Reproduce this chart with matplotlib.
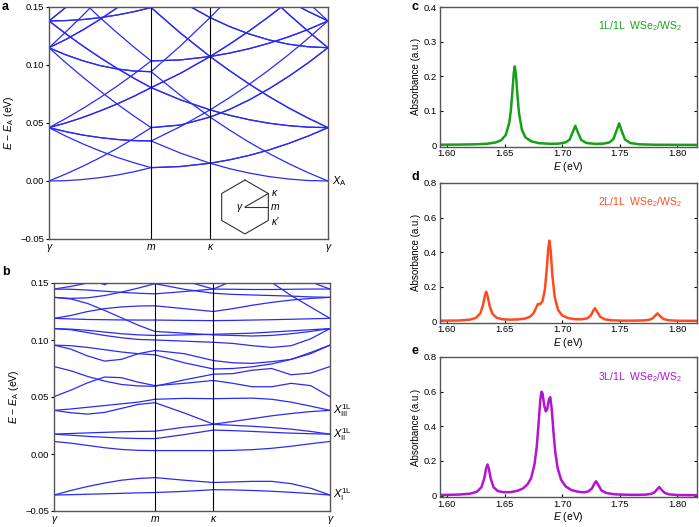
import matplotlib
matplotlib.use("Agg")
import matplotlib.pyplot as plt

plt.rcParams['font.family'] = ['Liberation Sans', 'DejaVu Sans']
plt.rcParams['mathtext.fontset'] = 'custom'
plt.rcParams['mathtext.rm'] = 'Liberation Sans'
plt.rcParams['mathtext.it'] = 'Liberation Sans:italic'
plt.rcParams['mathtext.bf'] = 'Liberation Sans:bold'

# k-path positions (gamma -> m -> kappa -> gamma)
kpath = [0, 0.1443, 0.2887, 0.433, 0.5774, 0.7217, 0.866, 1.116, 1.366,
         1.5327, 1.6993, 1.866, 2.0327, 2.1993, 2.366]
kticks = [0, 0.866, 1.366, 2.366]
klabels = ['γ', 'm', 'κ', 'γ']

# panel a bands (eV)
bands_a = [
    [0, 0.0003, 0.0013, 0.0029, 0.0051, 0.0080, 0.0115, 0.0125, 0.0153, 0.0106, 0.0068, 0.0038, 0.0017, 0.0004, 0],
    [0, 0.0061, 0.0128, 0.0201, 0.0281, 0.0367, 0.0460, 0.0483, 0.0551, 0.0438, 0.0333, 0.0237, 0.0150, 0.0071, 0],
    [0.0460, 0.0386, 0.0319, 0.0259, 0.0204, 0.0157, 0.0115, 0.0125, 0.0153, 0.0183, 0.0221, 0.0268, 0.0324, 0.0388, 0.0460],
    [0.1149, 0.1018, 0.0894, 0.0776, 0.0664, 0.0559, 0.0460, 0.0483, 0.0551, 0.0618, 0.0700, 0.0795, 0.0902, 0.1020, 0.1149],
    [0.0460, 0.0425, 0.0396, 0.0374, 0.0358, 0.0348, 0.0345, 0.0240, 0.0153, 0.0183, 0.0221, 0.0268, 0.0324, 0.0388, 0.0460],
    [0.1149, 0.1087, 0.1036, 0.0995, 0.0966, 0.0948, 0.0942, 0.0737, 0.0551, 0.0618, 0.0700, 0.0795, 0.0902, 0.1020, 0.1149],
    [0.0460, 0.0425, 0.0396, 0.0374, 0.0358, 0.0348, 0.0345, 0.0470, 0.0613, 0.0566, 0.0528, 0.0498, 0.0477, 0.0464, 0.0460],
    [0.1149, 0.1087, 0.1036, 0.0995, 0.0966, 0.0948, 0.0942, 0.1166, 0.1409, 0.1331, 0.1267, 0.1216, 0.1179, 0.1157, 0.1149],
    [0.0460, 0.0501, 0.0549, 0.0604, 0.0664, 0.0731, 0.0805, 0.0699, 0.0613, 0.0566, 0.0528, 0.0498, 0.0477, 0.0464, 0.0460],
    [0.1149, 0.1221, 0.1303, 0.1393, 0.1493, 0.1601, 0.1717, 0.1550, 0.1409, 0.1331, 0.1267, 0.1216, 0.1179, 0.1157, 0.1149],
    [0.0460, 0.0501, 0.0549, 0.0604, 0.0664, 0.0731, 0.0805, 0.0929, 0.1073, 0.0950, 0.0835, 0.0728, 0.0630, 0.0541, 0.0460],
    [0.1149, 0.1221, 0.1303, 0.1393, 0.1493, 0.1601, 0.1717, 0.1910, 0.2120, 0.1940, 0.1764, 0.1595, 0.1437, 0.1289, 0.1149],
    [0.0460, 0.0540, 0.0626, 0.0719, 0.0818, 0.0923, 0.1035, 0.1044, 0.1073, 0.0950, 0.0835, 0.0728, 0.0630, 0.0541, 0.0460],
    [0.1149, 0.1287, 0.1430, 0.1580, 0.1737, 0.1900, 0.2070, 0.2080, 0.2120, 0.1940, 0.1764, 0.1595, 0.1437, 0.1289, 0.1149],
    [0.1380, 0.1383, 0.1392, 0.1408, 0.1431, 0.1460, 0.1495, 0.1274, 0.1073, 0.1103, 0.1141, 0.1188, 0.1243, 0.1307, 0.1380],
    [0.1380, 0.1383, 0.1392, 0.1408, 0.1431, 0.1460, 0.1495, 0.1734, 0.1993, 0.1869, 0.1754, 0.1648, 0.1550, 0.1461, 0.1380],
    [0.1380, 0.1268, 0.1163, 0.1064, 0.0971, 0.0885, 0.0805, 0.0699, 0.0613, 0.0720, 0.0835, 0.0958, 0.1090, 0.1231, 0.1380],
    [0.2570, 0.2410, 0.2260, 0.2110, 0.1970, 0.1840, 0.1717, 0.1549, 0.1409, 0.1582, 0.1764, 0.1950, 0.2150, 0.2360, 0.2570],
    [0.1380, 0.1268, 0.1163, 0.1064, 0.0971, 0.0885, 0.0805, 0.0929, 0.1073, 0.1103, 0.1141, 0.1188, 0.1243, 0.1307, 0.1380],
    [0.1380, 0.1498, 0.1622, 0.1754, 0.1890, 0.2040, 0.2190, 0.2090, 0.1990, 0.1870, 0.1754, 0.1648, 0.1550, 0.1461, 0.1380],
    [0.1380, 0.1498, 0.1622, 0.1754, 0.1890, 0.2040, 0.2190, 0.2310, 0.2450, 0.2250, 0.2060, 0.1880, 0.1703, 0.1537, 0.1380],
    [0.1840, 0.1690, 0.1546, 0.1408, 0.1278, 0.1153, 0.1035, 0.1044, 0.1073, 0.1180, 0.1295, 0.1418, 0.1550, 0.1690, 0.1840],
    [0.1840, 0.1766, 0.1699, 0.1638, 0.1584, 0.1536, 0.1495, 0.1274, 0.1073, 0.1180, 0.1295, 0.1418, 0.1550, 0.1690, 0.1840],
    [0.1840, 0.1766, 0.1699, 0.1638, 0.1584, 0.1536, 0.1495, 0.1734, 0.1993, 0.1946, 0.1908, 0.1878, 0.1857, 0.1844, 0.1840],
]

# panel b bands (eV)
bands_b = [
    [-0.0360, -0.0357, -0.0353, -0.0349, -0.0345, -0.0341, -0.0338, -0.0328, -0.0313, -0.0315, -0.0320, -0.0327, -0.0336, -0.0347, -0.0360],
    [-0.0360, -0.0320, -0.0285, -0.0255, -0.0230, -0.0215, -0.0207, -0.0230, -0.0250, -0.0245, -0.0240, -0.0240, -0.0260, -0.0300, -0.0360],
    [0.0110, 0.0095, 0.0075, 0.0055, 0.0040, 0.0032, 0.0030, 0.0030, 0.0030, 0.0032, 0.0038, 0.0050, 0.0068, 0.0090, 0.0110],
    [0.0174, 0.0180, 0.0185, 0.0190, 0.0195, 0.0198, 0.0200, 0.0235, 0.0260, 0.0252, 0.0243, 0.0232, 0.0218, 0.0198, 0.0174],
    [0.0174, 0.0165, 0.0155, 0.0147, 0.0140, 0.0136, 0.0135, 0.0170, 0.0210, 0.0205, 0.0198, 0.0190, 0.0183, 0.0178, 0.0174],
    [0.0383, 0.0362, 0.0350, 0.0365, 0.0400, 0.0435, 0.0450, 0.0360, 0.0262, 0.0285, 0.0310, 0.0335, 0.0355, 0.0372, 0.0383],
    [0.0383, 0.0395, 0.0410, 0.0425, 0.0440, 0.0455, 0.0480, 0.0488, 0.0485, 0.0488, 0.0490, 0.0480, 0.0455, 0.0420, 0.0383],
    [0.0503, 0.0560, 0.0625, 0.0675, 0.0670, 0.0630, 0.0600, 0.0620, 0.0645, 0.0620, 0.0590, 0.0590, 0.0620, 0.0600, 0.0503],
    [0.0767, 0.0730, 0.0680, 0.0640, 0.0610, 0.0597, 0.0594, 0.0650, 0.0700, 0.0705, 0.0735, 0.0750, 0.0695, 0.0710, 0.0767],
    [0.0955, 0.0920, 0.0860, 0.0815, 0.0830, 0.0880, 0.0908, 0.0880, 0.0820, 0.0800, 0.0795, 0.0810, 0.0830, 0.0880, 0.0955],
    [0.0955, 0.0950, 0.0935, 0.0915, 0.0895, 0.0880, 0.0870, 0.0800, 0.0746, 0.0750, 0.0765, 0.0790, 0.0830, 0.0890, 0.0955],
    [0.1100, 0.1090, 0.1065, 0.1040, 0.1020, 0.1005, 0.1000, 0.0990, 0.0980, 0.0970, 0.0950, 0.0935, 0.0950, 0.1010, 0.1100],
    [0.1100, 0.1095, 0.1085, 0.1070, 0.1055, 0.1045, 0.1040, 0.1045, 0.1050, 0.1055, 0.1060, 0.1070, 0.1080, 0.1090, 0.1100],
    [0.1190, 0.1215, 0.1250, 0.1275, 0.1290, 0.1298, 0.1300, 0.1275, 0.1250, 0.1275, 0.1305, 0.1330, 0.1350, 0.1365, 0.1374],
    [0.1190, 0.1185, 0.1180, 0.1178, 0.1176, 0.1175, 0.1175, 0.1172, 0.1170, 0.1172, 0.1175, 0.1178, 0.1182, 0.1186, 0.1190],
    [0.1374, 0.1360, 0.1320, 0.1260, 0.1195, 0.1130, 0.1075, 0.1060, 0.1045, 0.1040, 0.1035, 0.1040, 0.1055, 0.1075, 0.1100],
    [0.1374, 0.1365, 0.1370, 0.1390, 0.1420, 0.1455, 0.1494, 0.1445, 0.1410, 0.1400, 0.1395, 0.1390, 0.1385, 0.1378, 0.1374],
    [0.1447, 0.1445, 0.1438, 0.1428, 0.1418, 0.1410, 0.1405, 0.1425, 0.1447, 0.1445, 0.1443, 0.1443, 0.1445, 0.1447, 0.1447],
    [0.1447, 0.1470, 0.1500, 0.1530, 0.1560, 0.1580, 0.1600, 0.1520, 0.1447, 0.1520, 0.1560, 0.1580, 0.1560, 0.1510, 0.1447],
    [0.1800, 0.1800, 0.1700, 0.1610, 0.1610, 0.1610, 0.1620, 0.1650, 0.1650, 0.1620, 0.1580, 0.1505, 0.1390, 0.1290, 0.1190],
    [0.1750, 0.1650, 0.1545, 0.1485, 0.1545, 0.1650, 0.1750, 0.1800, 0.1800, 0.1800, 0.1800, 0.1800, 0.1800, 0.1800, 0.1800],
]
exciton_labels_b = [(0.0383, r'$X_{\rm III}^{\rm 1L}$'), (0.0174, r'$X_{\rm II}^{\rm 1L}$'),
                    (-0.036, r'$X_{\rm I}^{\rm 1L}$')]

# absorbance spectra
E_c = [1.594, 1.61, 1.625, 1.635, 1.642, 1.647, 1.651, 1.654, 1.6555, 1.657, 1.658, 1.6589, 1.660, 1.661,
       1.6625, 1.665, 1.668, 1.673, 1.68, 1.69, 1.697, 1.703, 1.7065, 1.7095, 1.7114, 1.7135, 1.7165, 1.721,
       1.729, 1.736, 1.741, 1.7445, 1.7475, 1.7494, 1.7515, 1.7545, 1.759, 1.767, 1.78, 1.80, 1.817]
A_c = [0.0012, 0.0015, 0.0024, 0.004, 0.0075, 0.014, 0.029, 0.063, 0.100, 0.163, 0.209, 0.228, 0.201, 0.153,
       0.094, 0.045, 0.023, 0.011, 0.0055, 0.0038, 0.0043, 0.0078, 0.016, 0.040, 0.056, 0.038, 0.015, 0.0062,
       0.0035, 0.0043, 0.0078, 0.0175, 0.045, 0.063, 0.0425, 0.0165, 0.006, 0.0024, 0.0011, 0.0008, 0.0006]

E_d = [1.594, 1.61, 1.62, 1.625, 1.629, 1.6315, 1.633, 1.6341, 1.6355, 1.637, 1.6395, 1.643, 1.648, 1.655,
       1.662, 1.668, 1.672, 1.675, 1.677, 1.6789, 1.681, 1.683, 1.685, 1.6865, 1.6878, 1.6889, 1.690, 1.6915,
       1.6935, 1.6965, 1.700, 1.705, 1.711, 1.717, 1.722, 1.725, 1.727, 1.7285, 1.7305, 1.733, 1.737, 1.743,
       1.752, 1.762, 1.770, 1.775, 1.778, 1.7805, 1.7827, 1.785, 1.788, 1.792, 1.80, 1.817]
A_d = [0.0025, 0.0035, 0.0085, 0.018, 0.045, 0.098, 0.150, 0.170, 0.140, 0.089, 0.042, 0.020, 0.011, 0.0085,
       0.010, 0.015, 0.025, 0.044, 0.071, 0.099, 0.099, 0.117, 0.184, 0.290, 0.413, 0.466, 0.410, 0.266,
       0.140, 0.064, 0.033, 0.018, 0.011, 0.0105, 0.017, 0.034, 0.061, 0.075, 0.053, 0.025, 0.0105, 0.0047,
       0.0024, 0.0028, 0.004, 0.007, 0.0138, 0.030, 0.045, 0.029, 0.012, 0.005, 0.0022, 0.0015]

E_e = [1.594, 1.61, 1.62, 1.626, 1.630, 1.6325, 1.634, 1.6352, 1.6365, 1.638, 1.6405, 1.644, 1.649, 1.655,
       1.661, 1.666, 1.670, 1.673, 1.676, 1.678, 1.6795, 1.681, 1.682, 1.683, 1.6845, 1.6858, 1.687, 1.6885,
       1.6897, 1.691, 1.6925, 1.694, 1.696, 1.699, 1.703, 1.708, 1.714, 1.719, 1.723, 1.726, 1.728, 1.7294,
       1.731, 1.734, 1.738, 1.745, 1.755, 1.765, 1.772, 1.777, 1.780, 1.782, 1.7842, 1.7865, 1.789, 1.793,
       1.80, 1.817]
A_e = [0.0035, 0.0059, 0.011, 0.022, 0.049, 0.102, 0.156, 0.180, 0.152, 0.099, 0.048, 0.027, 0.0195, 0.020,
       0.0274, 0.041, 0.066, 0.100, 0.180, 0.286, 0.412, 0.550, 0.600, 0.589, 0.518, 0.486, 0.498, 0.555,
       0.568, 0.496, 0.363, 0.253, 0.161, 0.093, 0.053, 0.032, 0.022, 0.019, 0.025, 0.043, 0.070, 0.083,
       0.066, 0.030, 0.016, 0.0077, 0.0051, 0.0045, 0.0055, 0.0095, 0.0185, 0.033, 0.0495, 0.032, 0.0155, 0.007,
       0.0035, 0.0022]

spectra = [
    ('c', E_c, A_c, '#17a017', '1L/1L  WSe$_2$/WS$_2$', [0, 0.1, 0.2, 0.3, 0.4], ['0', '0.1', '0.2', '0.3', '0.4']),
    ('d', E_d, A_d, '#ff4a1f', '2L/1L  WSe$_2$/WS$_2$', [0, 0.2, 0.4, 0.6, 0.8], ['0', '0.2', '0.4', '0.6', '0.8']),
    ('e', E_e, A_e, '#b414d2', '3L/1L  WSe$_2$/WS$_2$', [0, 0.2, 0.4, 0.6, 0.8], ['0', '0.2', '0.4', '0.6', '0.8']),
]

W, H = 699, 527
fig = plt.figure(figsize=(W / 100, H / 100), dpi=100)


def box(l, t, r, b):
    return [l / W, 1 - b / H, (r - l) / W, (b - t) / H]


band_col = '#2a2af5'
fs = 6.8


def band_axes(ax, bands):
    for e in bands:
        ax.plot(kpath, e, color=band_col, lw=0.9)
    for kv in kticks[1:3]:
        ax.axvline(kv, color='black', lw=0.8)
    ax.set_xlim(0, 2.366)
    ax.set_ylim(-0.05, 0.15)
    ax.set_xticks(kticks)
    ax.set_xticklabels(klabels, fontstyle='italic', fontsize=7.5)
    ax.set_yticks([-0.05, 0, 0.05, 0.10, 0.15])
    ax.set_yticklabels(['\u22120.05', '0.00', '0.05', '0.10', '0.15'], fontsize=fs)
    ax.tick_params(axis='x', length=0, pad=2)
    ax.tick_params(axis='y', length=2, width=0.8, pad=1.5)
    for s in ax.spines.values():
        s.set_color('#555555')
        s.set_linewidth(1.0)
    ax.set_ylabel(r'$E$ $-$ $E_{\rm A}$ (eV)', fontsize=7.5, labelpad=3)


# panel a
ax_a = fig.add_axes(box(49, 7, 328, 239))
band_axes(ax_a, bands_a)
ax_a.annotate(r'$X_{\rm A}$', xy=(1.015, 0), xycoords=('axes fraction', 'data'),
              ha='left', va='center', fontsize=8)

# Brillouin zone inset
ins = ax_a.inset_axes([0.577, -0.013, 0.251, 0.302])
ins.set_xlim(-1.3, 1.3)
ins.set_ylim(-1.3, 1.3)
ins.set_aspect('equal')
ins.axis('off')
hx = [0, 0.866, 0.866, 0, -0.866, -0.866, 0]
hy = [1, 0.5, -0.5, -1, -0.5, 0.5, 1]
ins.plot(hx, hy, color='#333333', lw=0.8)
ins.plot([0, 0.866], [0, 0.5], color='#333333', lw=0.8)
ins.plot([0, 0.866], [0, 0], color='#333333', lw=0.8)
ins.text(-0.12, 0, 'γ', ha='right', va='center', fontsize=7.5, fontstyle='italic')
ins.text(0.98, 0.52, 'κ', ha='left', va='center', fontsize=7.5, fontstyle='italic')
ins.text(0.95, 0, 'm', ha='left', va='center', fontsize=7.5, fontstyle='italic')
ins.text(0.98, -0.55, "κ'", ha='left', va='center', fontsize=7.5, fontstyle='italic')

# panel b
ax_b = fig.add_axes(box(54, 283, 330, 511))
band_axes(ax_b, bands_b)
for ev, lab in exciton_labels_b:
    ax_b.annotate(lab, xy=(1.012, ev), xycoords=('axes fraction', 'data'),
                  ha='left', va='center', fontsize=8)

# spectra
rows = [(7, 146.5), (183, 322.5), (357, 497)]
for (name, ev, ab, col, txt, yt, ytl), (t, b) in zip(spectra, rows):
    ax = fig.add_axes(box(440, t, 697, b))
    ax.plot(ev, ab, color=col, lw=1.8)
    ax.set_xlim(1.594, 1.817)
    ax.set_ylim(-0.004 * yt[-1] / 0.4, yt[-1])
    ax.set_xticks([1.60, 1.65, 1.70, 1.75, 1.80])
    ax.set_xticklabels(['1.60', '1.65', '1.70', '1.75', '1.80'], fontsize=fs)
    ax.set_yticks(yt)
    ax.set_yticklabels(ytl, fontsize=fs)
    ax.tick_params(direction='in', length=2.5, width=0.8, right=True, top=False, pad=2)
    for s in ax.spines.values():
        s.set_color('#555555')
        s.set_linewidth(1.0)
    ax.set_xlabel(r'$E$ (eV)', fontsize=7.5, labelpad=1)
    ax.set_ylabel('Absorbance (a.u.)', fontsize=7, labelpad=2)
    ax.text(0.94, 0.86, txt, transform=ax.transAxes, ha='right', va='center',
            color=col, fontsize=7.5)

# panel letters
for lab, x, y in [('a', 2, 1), ('b', 2, 266), ('c', 412, 1), ('d', 412, 171), ('e', 412, 345)]:
    fig.text(x / W, 1 - y / H, lab, fontsize=9, fontweight='bold', ha='left', va='top')

fig.savefig('out.png', dpi=100)
